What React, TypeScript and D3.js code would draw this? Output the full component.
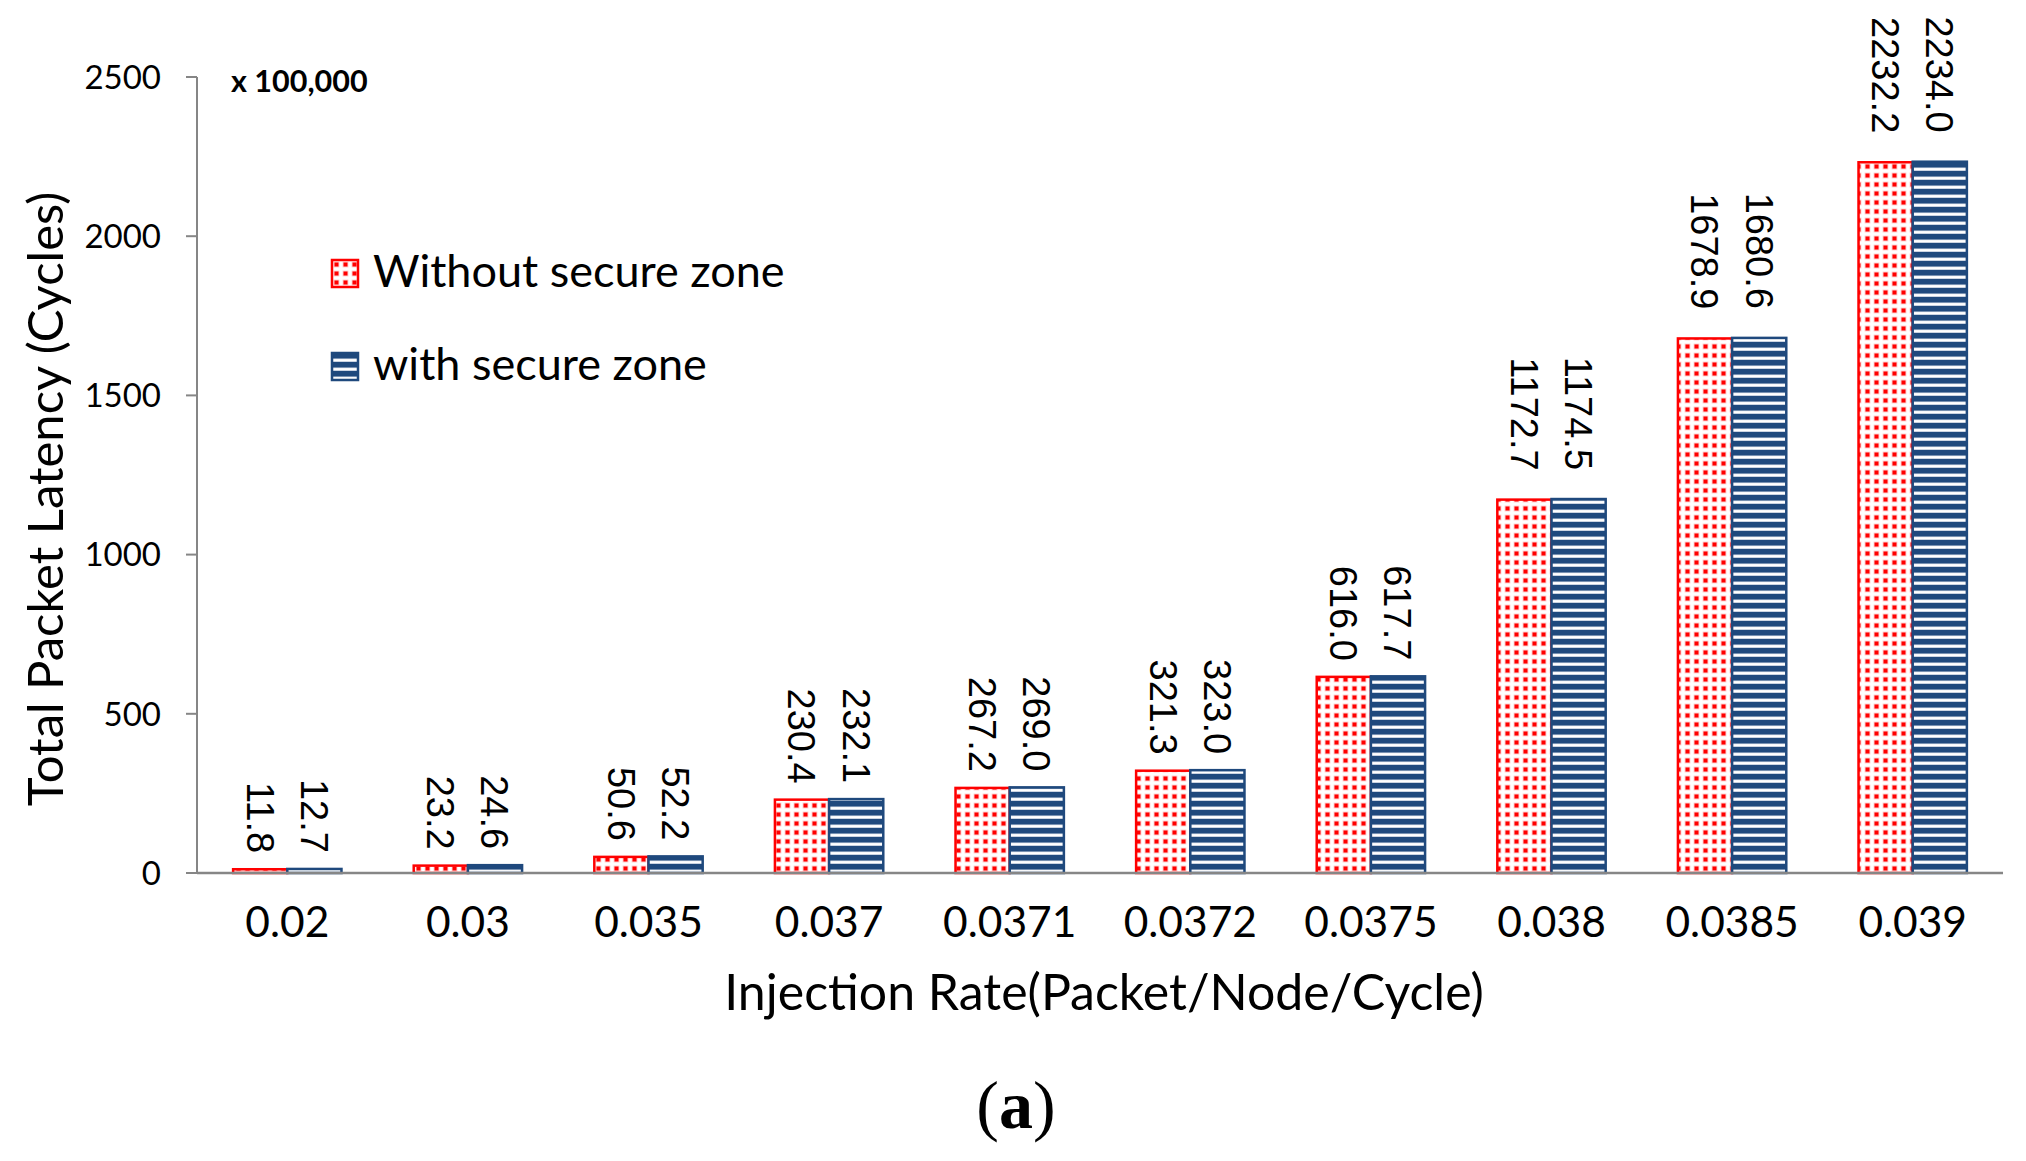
import { scaleBand, scaleLinear } from "d3";
import React, { useMemo } from "react";

// injection rates on the x axis
const rates = ["0.02", "0.03", "0.035", "0.037", "0.0371", "0.0372", "0.0375", "0.038", "0.0385", "0.039"];
// total packet latency, x 100,000 cycles
const withoutZone = [11.8, 23.2, 50.6, 230.4, 267.2, 321.3, 616.0, 1172.7, 1678.9, 2232.2];
const withZone = [12.7, 24.6, 52.2, 232.1, 269.0, 323.0, 617.7, 1174.5, 1680.6, 2234.0];
const yTicks = [0, 500, 1000, 1500, 2000, 2500];
const seriesNames = ["Without secure zone", "with secure zone"];

const W = 2026;
const H = 1161;
const margin = { top: 77, bottom: 288, left: 197, right: 23 };

const calibriLike = "Lato, 'Noto Sans', sans-serif";
const axisGray = "#868686";
const red = "#FF0000";
const navy = "#1F497D";

const App: React.FC = () => {
	const plotH = H - margin.top - margin.bottom;
	const plotW = W - margin.left - margin.right;

	const yScale = useMemo(
		() => scaleLinear().domain([0, 2500]).range([margin.top + plotH, margin.top]),
		[plotH],
	);
	const xScale = useMemo(
		() => scaleBand().domain(rates).range([margin.left, margin.left + plotW]).padding(0),
		[plotW],
	);
	const inner = useMemo(
		() =>
			scaleBand()
				.domain(["without", "with"])
				.range([xScale.bandwidth() * 0.2, xScale.bandwidth() * 0.8])
				.padding(0),
		[xScale],
	);

	const series = [
		{ key: "without", values: withoutZone, fill: "url(#dots)", stroke: red },
		{ key: "with", values: withZone, fill: "url(#stripes)", stroke: navy },
	];

	const y0 = yScale(0);

	return (
		<svg
			width={W}
			height={H}
			style={{ position: "absolute", left: 0, top: 0, background: "#fff" }}>
			<defs>
				<pattern id="dots" patternUnits="userSpaceOnUse" width={9} height={9}>
					<rect width={9} height={9} fill="#fff" />
					<rect x={1.6} y={1.6} width={5.8} height={5.8} fill="#ffc8c8" />
					<rect x={2.5} y={2.5} width={4} height={4} fill={red} />
				</pattern>
				<pattern id="stripes" patternUnits="userSpaceOnUse" width={9} height={9}>
					<rect width={9} height={9} fill={navy} />
					<rect y={5.4} width={9} height={3.6} fill="#b3c1d4" />
					<rect y={6.1} width={9} height={2.2} fill="#fff" />
				</pattern>
			</defs>

			{/* bars */}
			{series.map((s) => (
				<g key={s.key}>
					{s.values.map((v, i) => {
						const x = (xScale(rates[i]) || 0) + (inner(s.key) || 0);
						const y = yScale(v);
						return (
							<rect
								key={i}
								x={x}
								y={y}
								width={inner.bandwidth()}
								height={y0 - y}
								fill={s.fill}
								stroke={s.stroke}
								strokeWidth={2.5}
							/>
						);
					})}
				</g>
			))}

			{/* value labels, rotated */}
			{series.map((s) => (
				<g key={s.key + "-lbl"}>
					{s.values.map((v, i) => {
						const label = v.toFixed(1);
						const cx = (xScale(rates[i]) || 0) + (inner(s.key) || 0) + inner.bandwidth() / 2;
						const gap = label.length > 5 ? 29 : 16;
						return (
							<text
								key={i}
								transform={`translate(${cx}, ${yScale(v) - gap}) rotate(90)`}
								textAnchor="end"
								dy="0.36em"
								fontFamily="'Liberation Sans', Arial, sans-serif"
								fontSize={38}
								fill="#000">
								{label}
							</text>
						);
					})}
				</g>
			))}

			{/* y axis */}
			<line x1={margin.left} x2={margin.left} y1={margin.top} y2={y0} stroke={axisGray} strokeWidth={2} />
			{yTicks.map((t) => (
				<g key={t} transform={`translate(0, ${yScale(t)})`}>
					<line x1={margin.left - 11} x2={margin.left} stroke={axisGray} strokeWidth={2} />
					<text
						x={margin.left - 36}
						dy="0.36em"
						textAnchor="end"
						fontFamily={calibriLike}
						fontSize={33}
						fill="#000">
						{t}
					</text>
				</g>
			))}

			{/* x axis */}
			<line x1={margin.left} x2={margin.left + plotW} y1={y0} y2={y0} stroke={axisGray} strokeWidth={2.5} />
			{rates.map((r) => (
				<text
					key={r}
					x={(xScale(r) || 0) + xScale.bandwidth() / 2}
					y={937}
					textAnchor="middle"
					fontFamily={calibriLike}
					fontSize={42.5}
					fill="#000">
					{r}
				</text>
			))}

			{/* axis titles */}
			<text
				x={margin.left + plotW / 2 + 4}
				y={1010}
				textAnchor="middle"
				fontFamily={calibriLike}
				fontSize={50}
				fill="#000">
				Injection Rate(Packet/Node/Cycle)
			</text>
			<text
				transform={`translate(63, ${yScale(1250) + 24}) rotate(-90)`}
				textAnchor="middle"
				fontFamily={calibriLike}
				fontSize={49}
				fill="#000">
				Total Packet Latency (Cycles)
			</text>
			<text x={231} y={92} fontFamily={calibriLike} fontWeight="bold" fontSize={30.5} fill="#000">
				x 100,000
			</text>

			{/* legend */}
			{series.map((s, i) => (
				<g key={s.key + "-leg"} transform={`translate(332, ${260 + i * 93})`}>
					<rect width={26} height={27} fill={s.fill} stroke={s.stroke} strokeWidth={2.5} />
					<text x={41} y={27} fontFamily={calibriLike} fontSize={45} fill="#000">
						{seriesNames[i]}
					</text>
				</g>
			))}

			{/* panel tag */}
			<text
				x={1016}
				y={1128}
				textAnchor="middle"
				fontFamily="'Liberation Serif', 'Times New Roman', serif"
				fontSize={68}
				fill="#000">
				(<tspan fontWeight="bold">a</tspan>)
			</text>
		</svg>
	);
};

export default App;
